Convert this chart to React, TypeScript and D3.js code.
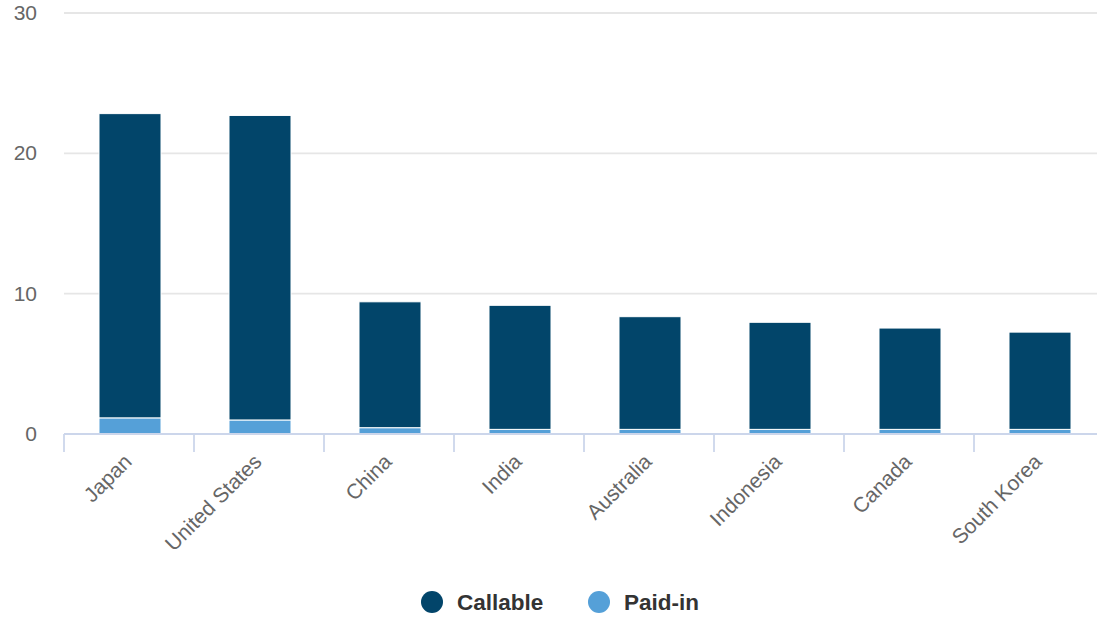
import React from "react";
import * as d3 from "d3";

// Subscribed capital by member, in billions
const countries = ["Japan", "United States", "China", "India", "Australia", "Indonesia", "Canada", "South Korea"];
const callable = [21.68, 21.7, 8.97, 8.84, 8.03, 7.63, 7.22, 6.93];
const paidIn = [1.15, 1.0, 0.45, 0.33, 0.33, 0.33, 0.33, 0.33];
const yTicks = [0, 10, 20, 30];

const seriesNames = ["Callable", "Paid-in"];
const seriesColors = ["#02456a", "#55a0d8"];

const W = 1097;
const H = 617;
const FONT = "'Liberation Sans', Arial, Helvetica, sans-serif";

export default function App() {
  const x = d3.scaleBand<string>().domain(countries).range([64, 1104]).padding(0);
  const y = d3.scaleLinear().domain([0, 30]).range([434, 13]);

  const rows = countries.map((c, i) => ({ country: c, paid: paidIn[i], callable: callable[i] }));
  const stack = d3.stack<any>().keys(["paid", "callable"]);
  const layers = stack(rows);
  const colorFor: Record<string, string> = { paid: seriesColors[1], callable: seriesColors[0] };

  const barW = x.bandwidth() * 0.477;
  const boundaries = countries.map((c) => x(c) as number);

  return (
    <svg width={W} height={H} style={{ position: "absolute", left: 0, top: 0, fontFamily: FONT }}>
      <rect width={W} height={H} fill="#ffffff" />
      {/* gridlines */}
      {yTicks.filter((t) => t !== 0).map((t) => (
        <line key={t} x1={64} x2={W} y1={y(t)} y2={y(t)} stroke="#e6e6e6" strokeWidth={1.8} />
      ))}
      {/* y labels */}
      {yTicks.map((t) => (
        <text key={t} x={37} y={y(t) + 7} textAnchor="end" fontSize={21} fill="#666666">
          {t}
        </text>
      ))}
      {/* bars */}
      {layers.map((layer) =>
        layer.map((d, i) => {
          const cx = (x(countries[i]) as number) + x.bandwidth() / 2 + 1;
          return (
            <rect
              key={layer.key + i}
              x={cx - barW / 2}
              y={y(d[1])}
              width={barW}
              height={y(d[0]) - y(d[1])}
              fill={colorFor[layer.key]}
              stroke="#ffffff"
              strokeWidth={1}
            />
          );
        })
      )}
      {/* x axis */}
      <line x1={64} x2={W} y1={434} y2={434} stroke="#ccd6eb" strokeWidth={1.8} />
      {boundaries.map((bx, i) => (
        <line key={i} x1={bx} x2={bx} y1={434} y2={452} stroke="#ccd6eb" strokeWidth={1.8} />
      ))}
      {countries.map((c) => {
        const cx = (x(c) as number) + x.bandwidth() / 2;
        return (
          <text
            key={c}
            transform={`translate(${cx + 4},${463}) rotate(-45)`}
            textAnchor="end"
            fontSize={21}
            fill="#666666"
          >
            {c}
          </text>
        );
      })}
      {/* legend */}
      {seriesNames.map((s, i) => {
        const lx = i === 0 ? 432 : 599;
        return (
          <g key={s}>
            <circle cx={lx} cy={602} r={11} fill={seriesColors[i]} />
            <text x={lx + 25} y={610} fontSize={22.5} fontWeight="bold" fill="#333333">
              {s}
            </text>
          </g>
        );
      })}
    </svg>
  );
}
